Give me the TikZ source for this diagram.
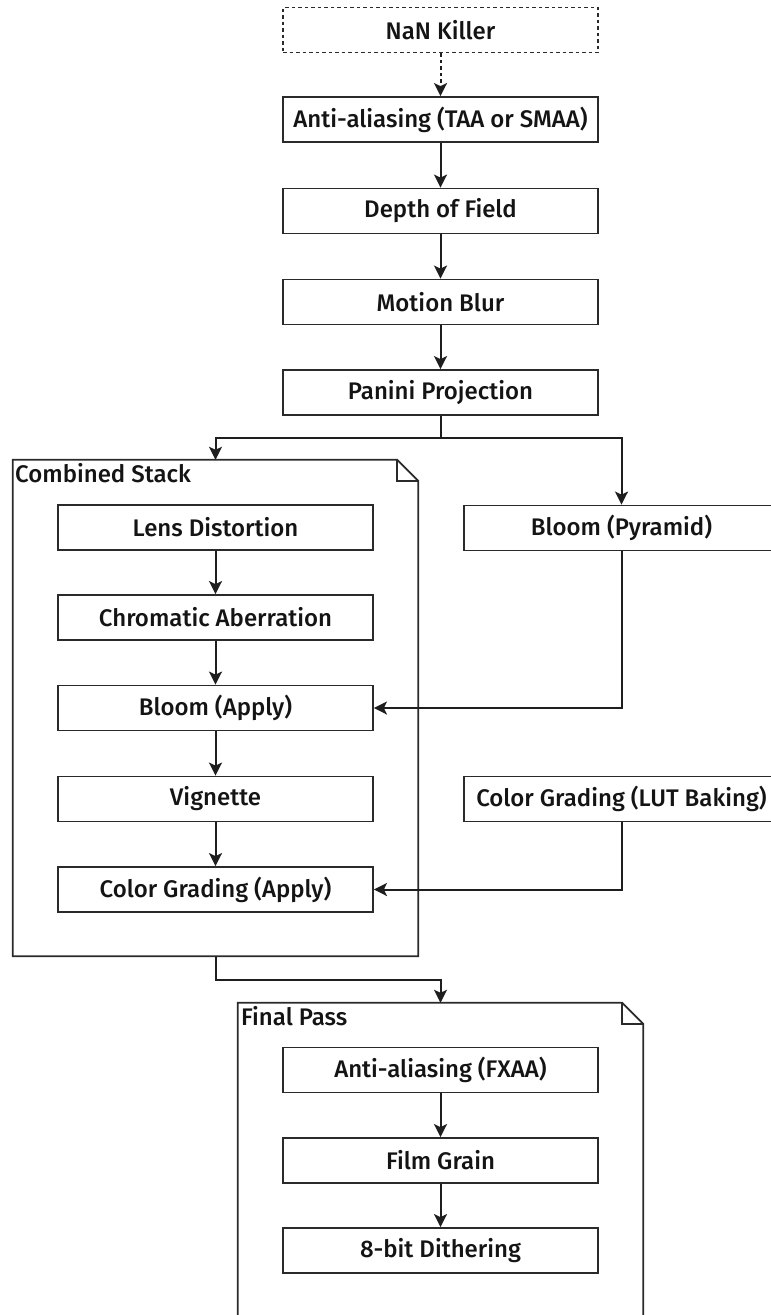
\documentclass[tikz,border=0pt]{standalone}
\usepackage{fontspec}
\setmainfont{Fira Sans}[UprightFont=* Medium]
\usetikzlibrary{arrows.meta,calc}

\definecolor{edge}{HTML}{2A2A2A}
\definecolor{wire}{HTML}{1E1E1E}
\definecolor{ink}{HTML}{141414}

\tikzset{
  stage/.style={draw=edge, line width=1.8pt, fill=white, rectangle,
    minimum width=315pt, minimum height=45pt, inner sep=0pt,
    font=\fontsize{24}{28}\selectfont, text=ink},
  optional/.style={stage, dash pattern=on 3.5pt off 3pt},
  group/.style={rectangle, draw=none, inner sep=0pt},
  grouplabel/.style={anchor=base west, inner sep=0pt,
    font=\fontsize{24}{28}\selectfont, text=ink},
  link/.style={draw=wire, line width=2pt,
    -{Stealth[length=13pt,width=13pt,inset=3pt]}},
  optlink/.style={link, dash pattern=on 3.5pt off 3pt},
}

\newcommand{\foldbox}[2]{%
  \draw[edge, line width=1.8pt, fill=white]
    (#1.north west) -- ($(#1.north east)+(-#2,0)$) -- ($(#1.north east)+(0,#2)$)
    -- (#1.south east) -- (#1.south west) -- cycle;
  \draw[edge, line width=1.8pt]
    ($(#1.north east)+(-#2,0)$) -- ++(0,#2) -- ++(#2,0);
}

\begin{document}
\begin{tikzpicture}[x=1pt, y=-1pt]
\clip (0,0) rectangle (771,1315);
\fill[white] (0,0) rectangle (771,1315);

% containers
\node[group, minimum width=405pt, minimum height=496pt] (stack) at (215.5,708) {};
\foldbox{stack}{21}
\node[grouplabel] (stacklbl) at (15,482.5) {Combined Stack};

\node[group, minimum width=405pt, minimum height=315pt] (final) at (440.5,1160.5) {};
\foldbox{final}{21}
\node[grouplabel] (finallbl) at (241,1025) {Final Pass};

% main chain
\node[optional] (nan)  at (440.5,30)    {NaN Killer};
\node[stage]    (aa)   at (440.5,119.5) {Anti-aliasing (TAA or SMAA)};
\node[stage]    (dof)  at (440.5,211)   {Depth of Field};
\node[stage]    (mb)   at (440.5,302)   {Motion Blur};
\node[stage]    (pan)  at (440.5,392.5) {Panini Projection};

% combined stack
\node[stage] (lens)    at (215.5,527.5) {Lens Distortion};
\node[stage] (chrom)   at (215.5,617.5) {Chromatic Aberration};
\node[stage] (bapply)  at (215.5,708)   {Bloom (Apply)};
\node[stage] (vig)     at (215.5,799)   {Vignette};
\node[stage] (cgapply) at (215.5,889.5) {Color Grading (Apply)};

% side passes
\node[stage] (bpyr) at (621.5,528) {Bloom (Pyramid)};
\node[stage] (lut)  at (621.5,799) {Color Grading (LUT Baking)};

% final pass
\node[stage] (fxaa)  at (440.5,1070)   {Anti-aliasing (FXAA)};
\node[stage] (grain) at (440.5,1160.5) {Film Grain};
\node[stage] (dith)  at (440.5,1250.5) {8-bit Dithering};

% connectors
\draw[optlink] (nan) -- (aa);
\draw[link] (aa) -- (dof);
\draw[link] (dof) -- (mb);
\draw[link] (mb) -- (pan);

\coordinate (split) at ($(pan.south)+(0,22)$);
\draw[link] (pan.south) -- (split) -| (stack.north);
\draw[link] (split) -| (bpyr.north);

\draw[link] (lens) -- (chrom);
\draw[link] (chrom) -- (bapply);
\draw[link] (bapply) -- (vig);
\draw[link] (vig) -- (cgapply);

\draw[link] (bpyr.south) |- (bapply.east);
\draw[link] (lut.south) |- (cgapply.east);

\coordinate (merge) at ($(stack.south)+(0,24)$);
\draw[link] (stack.south) -- (merge) -| (final.north);

\draw[link] (fxaa) -- (grain);
\draw[link] (grain) -- (dith);
\end{tikzpicture}
\end{document}
